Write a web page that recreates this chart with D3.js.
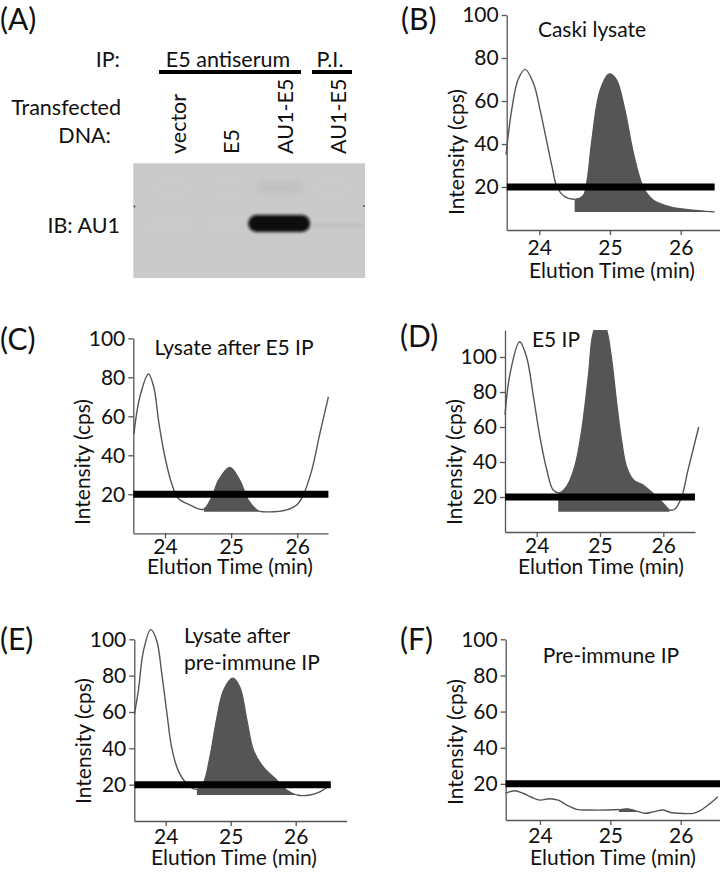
<!DOCTYPE html>
<html>
<head>
<meta charset="utf-8">
<script src="https://cdn.jsdelivr.net/npm/d3@7"></script>
<style>
  body { margin: 0; background: #fff; }
  svg { display: block; }
  text { font-family: Lato, "Open Sans", sans-serif; fill: #111; }
</style>
</head>
<body>
<svg id="fig" width="720" height="877"></svg>
<script>
// ---- data: [elution time (min), intensity (cps)] ----
const caskiLysate = [[23.53,35],[23.61,56],[23.70,70],[23.80,74.7],[23.92,68],[24.01,56],[24.10,42],[24.18,29.5],[24.25,20],[24.36,15.5],[24.50,14.3],[24.62,16],[24.68,24],[24.74,41],[24.86,65],[24.99,72.6],[25.09,70],[25.21,56],[25.33,36],[25.47,20],[25.61,14],[25.85,10.8],[26.10,9.5],[26.48,8.4]];
const afterE5 = [[23.53,51],[23.62,70],[23.75,81.7],[23.83,75],[23.91,56],[24.00,39],[24.10,25.6],[24.20,18],[24.38,14.5],[24.58,12.3],[24.71,18.8],[24.81,27.3],[24.98,33.8],[25.13,27.3],[25.26,17],[25.41,11.6],[25.54,11],[25.84,12],[25.99,14.5],[26.09,19.6],[26.22,32.5],[26.34,51],[26.47,70]];
const e5IP = [[23.50,66.9],[23.58,90.7],[23.73,108.7],[23.84,100],[23.95,77],[24.05,54.5],[24.16,35.4],[24.26,24],[24.36,22.5],[24.47,25.9],[24.60,37.3],[24.71,58],[24.82,90.7],[24.89,113.5],[25.00,122],[25.10,116],[25.18,100],[25.26,75],[25.34,52.6],[25.42,37.3],[25.53,29.7],[25.68,26.9],[25.84,22],[26.00,16.4],[26.10,12.6],[26.18,13],[26.29,20],[26.39,35.4],[26.56,60]];
const afterPreImmune = [[23.52,59],[23.58,72],[23.66,94],[23.77,105.3],[23.86,99.5],[23.94,81],[24.02,59],[24.09,40.8],[24.19,28],[24.32,20.7],[24.48,17.4],[24.58,21],[24.68,35.3],[24.78,55.5],[24.89,72],[25.03,78.7],[25.14,73.8],[25.25,55.5],[25.35,39],[25.50,29.8],[25.71,22.5],[25.86,17],[26.02,14.3],[26.22,14.3],[26.37,16],[26.53,19.8]];
const preImmuneIP = [[23.51,14.8],[23.64,16.2],[23.76,14.8],[23.88,12.6],[24.00,11],[24.14,11.8],[24.26,11],[24.38,8.3],[24.52,5.9],[24.71,5.5],[24.95,5.5],[25.14,5.8],[25.25,6.2],[25.37,5],[25.49,3.7],[25.61,4.5],[25.75,5.5],[25.87,4],[25.99,3.7],[26.18,3.7],[26.27,5],[26.39,8.3],[26.53,12.9]];

// shaded window [start, end] and its floor (cps)
const caskiFill = [24.50, 26.48], caskiFloor = 8.4;
const afterE5Fill = [24.59, 25.45], afterE5Floor = 11;
const e5IPFill = [24.34, 26.10], e5IPFloor = 11.6;
const afterPreFill = [24.48, 26.02], afterPreFloor = 14.3;
const preFill = [25.12, 25.38], preFloor = 4.4;

// threshold bar (cps) and its time span per panel
const threshold = 20;
const caskiThr = [23.54, 26.48], afterE5Thr = [23.52, 26.47], e5IPThr = [23.50, 26.50],
      afterPreThr = [23.52, 26.54], preThr = [23.51, 26.60];

const xTicks = [24, 25, 26];
const yTicks = [20, 40, 60, 80, 100];

// western blot
const lanes = ["vector", "E5", "AU1-E5", "AU1-E5"];
const bandSignal = [0, 0, 1, 0.06];
const upperBand = [0, 0, 0.05, 0];

const svg = d3.select("#fig");
const gray = "#555";

// ---------------- panel A ----------------
(function drawBlot() {
  const g = svg.append("g");
  g.append("text").attr("x", 0).attr("y", 30).attr("font-size", 30).text("(A)");

  const fs = 21.5;
  g.append("text").attr("x", 120).attr("y", 67).attr("text-anchor", "end").attr("font-size", fs).text("IP:");
  g.append("text").attr("x", 228).attr("y", 67).attr("text-anchor", "middle").attr("font-size", fs).text("E5 antiserum");
  g.append("text").attr("x", 330).attr("y", 67).attr("text-anchor", "middle").attr("font-size", fs).text("P.I.");
  g.append("line").attr("x1", 159).attr("x2", 301).attr("y1", 72).attr("y2", 72).attr("stroke", "#000").attr("stroke-width", 4);
  g.append("line").attr("x1", 312).attr("x2", 352).attr("y1", 72).attr("y2", 72).attr("stroke", "#000").attr("stroke-width", 4);
  g.append("text").attr("x", 121).attr("y", 115).attr("text-anchor", "end").attr("font-size", fs).text("Transfected");
  g.append("text").attr("x", 111).attr("y", 143).attr("text-anchor", "end").attr("font-size", fs).text("DNA:");
  g.append("text").attr("x", 120).attr("y", 233).attr("text-anchor", "end").attr("font-size", fs).text("IB: AU1");

  const lx = d3.scalePoint().domain(d3.range(lanes.length)).range([178.5, 338.5]);
  g.selectAll("text.lane").data(lanes).join("text")
    .attr("class", "lane")
    .attr("font-size", fs)
    .attr("transform", (d, i) => `translate(${lx(i) + 7.5},154) rotate(-90)`)
    .text(d => d);

  const defs = svg.append("defs");
  defs.append("filter").attr("id", "blur1").attr("x", "-30%").attr("y", "-60%").attr("width", "160%").attr("height", "220%")
    .append("feGaussianBlur").attr("stdDeviation", 1.4);
  defs.append("filter").attr("id", "blur3").attr("x", "-30%").attr("y", "-100%").attr("width", "160%").attr("height", "300%")
    .append("feGaussianBlur").attr("stdDeviation", 3);

  g.append("rect").attr("x", 133.3).attr("y", 163.3).attr("width", 231.7).attr("height", 114.7)
    .attr("fill", "#cacaca");
  const shade = d3.scaleLinear().domain([0, 1]).range(["#cacaca", "#0a0a0a"]);
  g.selectAll("rect.up").data(upperBand).join("rect").attr("class", "up")
    .attr("x", (d, i) => lx(i) - 28).attr("y", 182).attr("width", 46).attr("height", 11).attr("rx", 5)
    .attr("fill", d => shade(d)).attr("filter", "url(#blur3)");
  g.selectAll("rect.band").data(bandSignal).join("rect").attr("class", "band")
    .attr("x", (d, i) => i === 3 ? lx(i) - 27 : lx(i) - 37).attr("y", (d, i) => i === 3 ? 223.5 : 215)
    .attr("width", (d, i) => i === 3 ? 52 : 62).attr("height", (d, i) => i === 3 ? 4 : 17)
    .attr("rx", (d, i) => i === 3 ? 2 : 8.5)
    .attr("fill", d => shade(d)).attr("filter", "url(#blur1)");
  g.append("circle").attr("cx", 134.5).attr("cy", 206.5).attr("r", 0.9).attr("fill", "#444");
  g.append("circle").attr("cx", 364).attr("cy", 206).attr("r", 0.9).attr("fill", "#444");
})();

// ---------------- chromatogram panels ----------------
const panels = [
  { label: "(B)", lx: 401, ly: 30, data: caskiLysate, fill: caskiFill, floor: caskiFloor, thr: caskiThr,
    x24: 539.3, x26: 680.7, xL: 506.7, xR: 720, y0: 230, y100: 15, yTop: 15, pad: 5,
    title: ["Caski lysate"], tx: 592, ty: 37, anchor: "middle", xlx: 612, xly: 278, yly: 152 },
  { label: "(C)", lx: 0, ly: 350, data: afterE5, fill: afterE5Fill, floor: afterE5Floor, thr: afterE5Thr,
    x24: 165, x26: 297.3, xL: 133.3, xR: 328, y0: 533.3, y100: 338.3, yTop: 338.3, pad: 1,
    title: ["Lysate after E5 IP"], tx: 234, ty: 355, anchor: "middle", xlx: 230, xly: 574, yly: 462 },
  { label: "(D)", lx: 400, ly: 347, data: e5IP, fill: e5IPFill, floor: e5IPFloor, thr: e5IPThr,
    x24: 536.7, x26: 663.3, xL: 505, xR: 695, y0: 532, y100: 357, yTop: 330, pad: 1,
    title: ["E5 IP"], tx: 556, ty: 347, anchor: "middle", xlx: 601, xly: 574, yly: 462 },
  { label: "(E)", lx: 0, ly: 650, data: afterPreImmune, fill: afterPreFill, floor: afterPreFloor, thr: afterPreThr,
    x24: 165.7, x26: 295.7, xL: 134.3, xR: 346.7, y0: 821, y100: 639.3, yTop: 639.3, pad: 3,
    title: ["Lysate after", "pre-immune IP"], tx: 184, ty: 643, anchor: "start", xlx: 234, xly: 865, yly: 741 },
  { label: "(F)", lx: 400, ly: 650, data: preImmuneIP, fill: preFill, floor: preFloor, thr: preThr,
    x24: 540, x26: 680.7, xL: 505.7, xR: 720, y0: 820, y100: 639.3, yTop: 639.3, pad: 3,
    title: ["Pre-immune IP"], tx: 611, ty: 663, anchor: "middle", xlx: 613, xly: 865, yly: 742 }
];

const fs = 21;
panels.forEach((p, k) => {
  const g = svg.append("g");
  const x = d3.scaleLinear().domain([24, 26]).range([p.x24, p.x26]);
  const y = d3.scaleLinear().domain([0, 100]).range([p.y0, p.y100]);
  const xa = d3.scaleLinear().domain([x.invert(p.xL), x.invert(p.xR)]).range([p.xL, p.xR]);
  const ya = d3.scaleLinear().domain([0, y.invert(p.yTop)]).range([p.y0, p.yTop]);

  const defs = svg.append("defs");
  defs.append("clipPath").attr("id", "fc" + k).append("rect")
    .attr("x", x(p.fill[0])).attr("width", x(p.fill[1]) - x(p.fill[0]))
    .attr("y", p.yTop).attr("height", p.y0 - p.yTop);

  const curve = d3.curveCatmullRom.alpha(0.5);
  const area = d3.area().x(d => x(d[0])).y0(y(p.floor)).y1(d => y(d[1])).curve(curve);
  const line = d3.line().x(d => x(d[0])).y(d => y(d[1])).curve(curve);

  g.append("path").datum(p.data).attr("d", area).attr("fill", gray)
    .attr("clip-path", `url(#fc${k})`);
  // open trace outside the shaded window
  defs.append("clipPath").attr("id", "lc" + k).selectAll("rect")
    .data([[p.xL - 3, x(p.fill[0])], [x(p.fill[1]), 722]]).join("rect")
    .attr("x", d => d[0]).attr("width", d => d[1] - d[0]).attr("y", 0).attr("height", 877);
  g.append("path").datum(p.data).attr("d", line).attr("fill", "none")
    .attr("stroke", gray).attr("stroke-width", 1.4).attr("clip-path", `url(#lc${k})`);
  g.append("path").datum(p.data).attr("d", line).attr("fill", "none")
    .attr("stroke", gray).attr("stroke-width", 1.2).attr("clip-path", `url(#fc${k})`);

  // axes
  const gx = g.append("g").attr("transform", `translate(0,${p.y0})`)
    .call(d3.axisBottom(xa).tickValues(xTicks).tickSize(5).tickSizeOuter(0).tickPadding(p.pad).tickFormat(d3.format("d")));
  const gy = g.append("g").attr("transform", `translate(${p.xL},0)`)
    .call(d3.axisLeft(ya).tickValues(yTicks).tickSize(5).tickSizeOuter(0).tickPadding(3).tickFormat(d3.format("d")));
  [gx, gy].forEach(a => {
    a.attr("font-family", null).attr("font-size", null);
    a.selectAll("path, line").attr("stroke", gray).attr("stroke-width", 1.3);
    a.selectAll("text").attr("font-size", fs).attr("fill", "#111");
  });

  // threshold bar
  g.append("line").attr("x1", x(p.thr[0])).attr("x2", x(p.thr[1]))
    .attr("y1", y(threshold)).attr("y2", y(threshold))
    .attr("stroke", "#000").attr("stroke-width", 7);

  // text
  g.append("text").attr("x", p.lx).attr("y", p.ly).attr("font-size", 30).text(p.label);
  p.title.forEach((t, i) => g.append("text").attr("x", p.tx).attr("y", p.ty + i * 26.5)
    .attr("text-anchor", p.anchor).attr("font-size", fs).text(t));
  g.append("text").attr("x", p.xlx).attr("y", p.xly).attr("text-anchor", "middle")
    .attr("font-size", fs).text("Elution Time (min)");
  g.append("text").attr("transform", `translate(${p.xL - 43},${p.yly}) rotate(-90)`)
    .attr("text-anchor", "middle").attr("font-size", fs).text("Intensity (cps)");
});
</script>
</body>
</html>
